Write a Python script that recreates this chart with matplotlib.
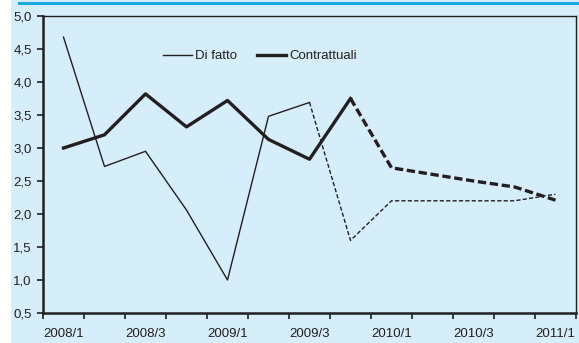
import matplotlib.pyplot as plt
from matplotlib.patches import Rectangle

plt.rcParams['font.family'] = ['Liberation Sans', 'DejaVu Sans']

quarters = ['2008/1', '2008/2', '2008/3', '2008/4', '2009/1', '2009/2', '2009/3',
            '2009/4', '2010/1', '2010/2', '2010/3', '2010/4', '2011/1']
di_fatto = [4.68, 2.72, 2.95, 2.06, 1.0, 3.48, 3.69, 1.6, 2.2, 2.2, 2.2, 2.2, 2.3]
contrattuali = [3.0, 3.2, 3.82, 3.32, 3.72, 3.13, 2.83, 3.75, 2.7, 2.6, 2.5, 2.41, 2.21]

# last observed quarter for each series, the rest is forecast (dashed)
last_fatto = 6
last_contr = 7

ink = '#231f20'
bg = '#d6eefa'

fig = plt.figure(figsize=(5.79, 3.43), dpi=100)
fig.patch.set_facecolor('white')
fig.patches.append(Rectangle((11 / 579, 0), 1, 1, transform=fig.transFigure,
                             facecolor=bg, edgecolor='none', zorder=-5))
fig.lines.append(plt.Line2D([19 / 579, 577 / 579], [1 - 2.5 / 343, 1 - 2.5 / 343],
                            transform=fig.transFigure, color='#1aa7e6', lw=2.2))

ax = fig.add_axes([43 / 579, 30 / 343, 533 / 579, 297 / 343])
ax.set_zorder(2)
ax.set_facecolor(bg)

x = list(range(len(quarters)))

ax.plot(x[:last_fatto + 1], di_fatto[:last_fatto + 1], color=ink, lw=1.0,
        label='Di fatto')
ax.plot(x[last_fatto:], di_fatto[last_fatto:], color=ink, lw=1.0,
        dashes=(3, 1.6))
ax.plot(x[:last_contr + 1], contrattuali[:last_contr + 1], color=ink, lw=2.4,
        label='Contrattuali')
ax.plot(x[last_contr:], contrattuali[last_contr:], color=ink, lw=2.4,
        dashes=(2.5, 1.1))

ax.set_xlim(-0.5, len(quarters) - 0.5)
ax.set_ylim(0.5, 5.0)

# tick marks between quarters, labels every second quarter
ax.set_xticks([i - 0.5 for i in range(len(quarters) + 1)])
ax.set_xticklabels([])
ax.set_xticks(x[::2], minor=True)
ax.set_xticklabels(quarters[::2], minor=True)
ax.tick_params(axis='x', which='major', direction='out', length=4, width=1.2,
               color=ink)
ax.tick_params(axis='x', which='minor', length=0, pad=11, labelsize=9.5,
               labelcolor=ink)

yt = [0.5 + 0.5 * i for i in range(10)]
ax.set_yticks(yt)
ax.set_yticklabels([f'{v:.1f}'.replace('.', ',') for v in yt])
ax.tick_params(axis='y', direction='out', length=4, width=1.2, pad=4,
               labelsize=9.5, labelcolor=ink, color=ink)

for side in ['left', 'bottom']:
    ax.spines[side].set_linewidth(1.8)
    ax.spines[side].set_color(ink)
for side in ['top', 'right']:
    ax.spines[side].set_linewidth(1.0)
    ax.spines[side].set_color(ink)

ax.legend(loc='center', bbox_to_anchor=(0.407, 0.865), ncol=2, frameon=False,
          fontsize=9.5, handlelength=2.2, handletextpad=0.25, columnspacing=1.5,
          labelcolor=ink)

fig.savefig('out.png', dpi=100, facecolor=fig.get_facecolor())
